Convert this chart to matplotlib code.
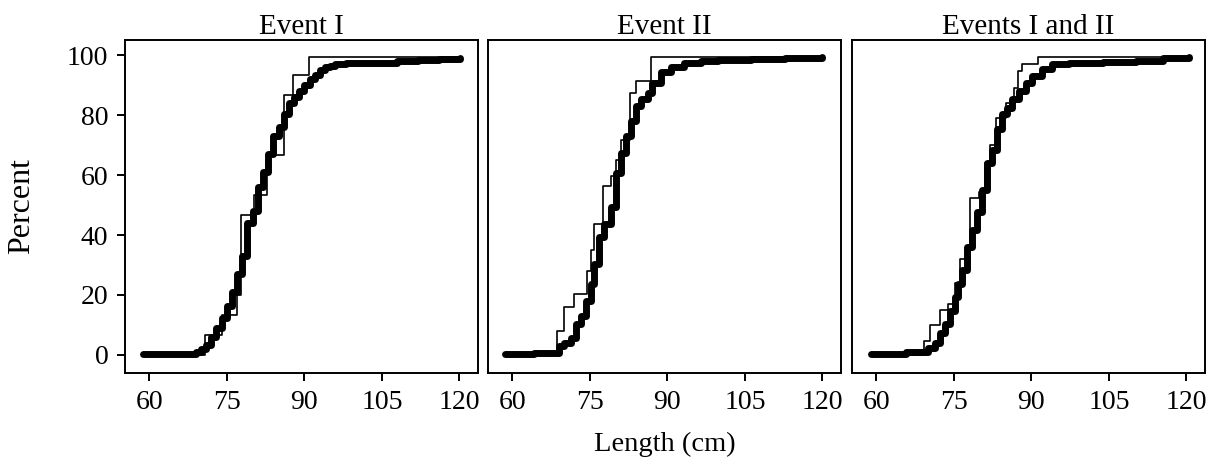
import matplotlib
matplotlib.use("Agg")
import matplotlib.pyplot as plt

plt.rcParams['font.family'] = ['Liberation Serif', 'DejaVu Serif']

titles = ["Event I", "Event II", "Events I and II"]

# Thick curves (large sample ECDF): length (cm), cumulative percent
thick_x_1 = [58.7, 68.2, 69.0, 70.0, 71.0, 72.0, 73.0, 74.0, 75.0, 76.0, 77.0, 78.0, 79.0, 80.0,
             81.0, 82.0, 83.0, 84.0, 85.0, 86.0, 87.0, 88.0, 89.0, 90.0, 91.0, 92.0, 93.0,
             94.0, 95.0, 96.0, 98.0, 105.0, 108.0, 112.0, 116.0, 120.2]
thick_y_1 = [0.3, 0.3, 1.0, 2.0, 3.5, 6.0, 9.0, 12.5, 16.5, 21.0, 27.0, 33.0, 44.0, 48.0,
             56.0, 61.0, 67.0, 73.0, 76.0, 80.5, 84.0, 86.0, 88.0, 90.0, 92.0, 93.5, 95.0,
             96.0, 96.5, 97.0, 97.2, 97.5, 98.0, 98.5, 98.8, 99.0]

thick_x_2 = [58.5, 64.2, 68.4, 69.0, 70.0, 71.4, 72.3, 73.3, 74.2, 75.2, 75.8, 76.8, 77.8,
             79.1, 80.0, 81.0, 82.0, 82.9, 83.9, 84.9, 86.2, 87.1, 88.8, 90.7, 93.3, 96.5,
             99.8, 106.2, 112.7, 120.0]
thick_y_2 = [0.2, 0.8, 0.8, 3.0, 4.1, 5.8, 10.3, 13.1, 18.1, 23.7, 30.4, 39.4, 43.8,
             49.4, 60.6, 67.3, 72.9, 78.0, 83.0, 85.2, 87.5, 90.8, 94.2, 95.9, 97.5, 98.1,
             98.3, 98.7, 98.9, 99.4]

thick_x_3 = [59.0, 65.8, 69.4, 70.1, 71.3, 72.3, 73.3, 74.3, 75.2, 75.9, 76.5, 77.5, 78.5,
             79.5, 80.4, 81.4, 82.4, 83.3, 84.3, 85.3, 86.3, 87.6, 88.9, 90.2, 92.1, 94.0,
             97.3, 103.8, 110.3, 115.4, 120.6]
thick_y_3 = [0.2, 1.1, 1.1, 2.5, 4.1, 7.5, 10.3, 14.8, 19.2, 23.7, 28.2, 36.0, 41.6,
             47.8, 55.0, 64.0, 68.5, 75.2, 80.2, 82.4, 85.2, 88.0, 90.8, 93.1, 95.3, 97.0,
             97.5, 97.8, 98.1, 98.9, 99.2]

# Thin curves (small sample ECDF)
thin_x_1 = [58.7, 70.8, 74.1, 76.9, 77.7, 80.2, 82.7, 86.0, 87.9, 90.9, 120.2]
thin_y_1 = [0.0, 6.7, 13.3, 20.0, 46.7, 53.3, 66.7, 86.7, 93.3, 99.3, 99.3]

thin_x_2 = [58.5, 68.7, 70.0, 72.0, 74.5, 75.2, 75.8, 77.5, 79.1, 80.0, 81.0, 82.8, 83.9, 86.8, 120.0]
thin_y_2 = [0.0, 8.1, 16.1, 20.4, 28.0, 35.0, 43.8, 56.2, 59.8, 65.0, 71.8, 87.5, 91.4, 99.2, 99.2]

thin_x_3 = [59.0, 69.3, 70.4, 72.3, 73.9, 75.2, 76.2, 78.2, 79.8, 81.0, 82.0, 83.2, 85.0,
            86.6, 87.4, 88.2, 91.3, 120.6]
thin_y_3 = [0.0, 4.7, 10.1, 15.0, 17.0, 24.0, 32.1, 52.2, 54.5, 64.0, 70.0, 79.1, 84.0,
            89.1, 94.7, 97.0, 99.2, 99.2]

xticks = [60, 75, 90, 105, 120]
yticks = [0, 20, 40, 60, 80, 100]

thick_x = [thick_x_1, thick_x_2, thick_x_3]
thick_y = [thick_y_1, thick_y_2, thick_y_3]
thin_x = [thin_x_1, thin_x_2, thin_x_3]
thin_y = [thin_y_1, thin_y_2, thin_y_3]

W, H = 1215, 462
fig = plt.figure(figsize=(W / 100, H / 100), dpi=100)

lefts = [125, 488, 852]
aw = 353
bottom_px, top_px = 373, 40

for i in range(3):
    ax = fig.add_axes([lefts[i] / W, 1 - bottom_px / H, aw / W, (bottom_px - top_px) / H])
    ax.step(thin_x[i], thin_y[i], where='post', color='black', lw=1.2, zorder=2)
    ax.step(thick_x[i], thick_y[i], where='post', color='black', lw=5.0,
            solid_capstyle='round', solid_joinstyle='round', zorder=3)
    ax.set_xlim(55.3, 123.6)
    ax.set_ylim(-6, 105)
    ax.set_xticks(xticks)
    ax.set_yticks(yticks)
    ax.tick_params(direction='out', length=6, width=1.4, labelsize=20, pad=6)
    if i > 0:
        ax.tick_params(axis='y', left=False, labelleft=False)
    for s in ax.spines.values():
        s.set_linewidth(1.4)
    ax.set_title(titles[i], fontsize=21, pad=2)

fig.text(22 / W, 1 - 206 / H, "Percent", rotation=90, ha='center', va='center', fontsize=23)
fig.text(665 / W, 1 - 444 / H, "Length (cm)", ha='center', va='center', fontsize=20.5)

fig.savefig("out.png", dpi=100)
